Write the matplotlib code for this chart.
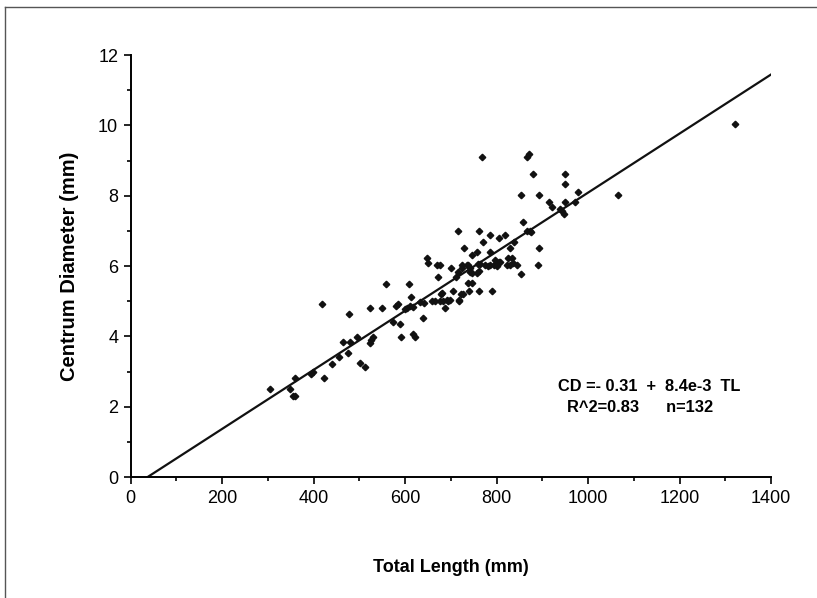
import numpy as np
import matplotlib
matplotlib.use('Agg')
import matplotlib.pyplot as plt
from matplotlib.lines import Line2D
from matplotlib.ticker import MultipleLocator

# total length (mm) and centrum diameter (mm)
total_length = [
    304, 348, 355, 360, 359, 395, 398, 422, 441, 456, 476, 464, 479, 494,
    501, 513, 523, 526, 530, 417, 478, 523, 549, 559, 609, 573, 589, 590,
    618, 621, 638, 580, 585, 603, 599, 613, 618, 632, 640, 658, 665, 676,
    683, 691, 678, 687, 647, 669, 676, 672, 698,
    716, 762, 785, 771, 806, 818, 857, 867, 875, 728, 747, 757, 785, 838,
    829, 893, 723, 738, 716, 711, 742, 745, 756, 762, 774, 785, 793, 804,
    796, 825, 833, 829, 836, 822, 845, 853, 890, 738, 745, 705, 721, 740,
    762, 789, 694, 718, 680, 727, 718, 767, 866, 871, 879, 949, 949, 978,
    852, 893, 1066, 915, 920, 949, 971, 942, 947, 939, 873, 1321, 807,
    734, 742, 763, 723, 760, 700, 650, 780, 800, 610,
]
centrum_diam = [
    2.49, 2.49, 2.31, 2.29, 2.82, 2.92, 2.99, 2.82, 3.21, 3.40, 3.52, 3.83, 3.85, 3.99,
    3.23, 3.12, 3.80, 3.91, 3.99, 4.91, 4.63, 4.81, 4.81, 5.48, 5.48, 4.42, 4.34, 3.99,
    4.07, 3.99, 4.51, 4.86, 4.92, 4.80, 4.77, 5.11, 4.84, 4.98, 4.96, 5.00, 5.00, 5.00,
    5.00, 5.02, 5.20, 4.82, 6.22, 6.03, 6.03, 5.68, 5.03,
    6.99, 6.99, 6.89, 6.69, 6.79, 6.88, 7.26, 6.99, 6.97, 6.50, 6.31, 6.41, 6.41, 6.69,
    6.50, 6.50, 6.03, 6.03, 5.84, 5.70, 5.84, 5.79, 5.81, 5.87, 6.03, 6.03, 6.03, 6.12,
    6.17, 6.22, 6.22, 6.03, 6.08, 6.03, 6.03, 5.77, 6.03, 5.51, 5.51, 5.30, 5.20, 5.30,
    5.30, 5.30, 5.00, 5.00, 5.22, 5.20, 5.03, 9.11, 9.11, 9.18, 8.61, 8.61, 8.32, 8.11,
    8.02, 8.02, 8.02, 7.83, 7.67, 7.83, 7.83, 7.57, 7.48, 7.61, 7.00, 10.04, 6.12,
    6.03, 5.93, 6.07, 5.93, 6.05, 5.95, 6.10, 6.00, 6.00, 4.85,
]

intercept = -0.31
slope = 8.4e-3

plt.rcParams['font.family'] = ['Liberation Sans', 'DejaVu Sans']

fig = plt.figure(figsize=(8.17, 5.98), dpi=100)
ax = fig.add_axes([0.160, 0.2023, 0.784, 0.7057])

ax.plot(total_length, centrum_diam, linestyle='none', marker='D', ms=3.3,
        color='#111111', mec='#111111')

# fitted line from where it crosses zero up to the axis end
x0 = -intercept / slope
xs = np.array([x0, 1400])
ax.plot(xs, intercept + slope * xs, color='#111111', lw=1.6)

ax.set_xlim(0, 1400)
ax.set_ylim(0, 12)
ax.xaxis.set_major_locator(MultipleLocator(200))
ax.xaxis.set_minor_locator(MultipleLocator(100))
ax.yaxis.set_major_locator(MultipleLocator(2))
ax.yaxis.set_minor_locator(MultipleLocator(1))
ax.tick_params(which='major', direction='out', length=5, width=1.2, labelsize=13, pad=4)
ax.tick_params(which='minor', direction='out', length=3, width=1.2)

for s in ['top', 'right']:
    ax.spines[s].set_visible(False)
for s in ['left', 'bottom']:
    ax.spines[s].set_linewidth(1.4)

ax.set_xlabel('Total Length (mm)', fontsize=13, fontweight='bold', labelpad=38)
ax.set_ylabel('Centrum Diameter (mm)', fontsize=14.5, fontweight='bold', labelpad=14)

ax.text(934, 2.56, 'CD =- 0.31  +  8.4e-3  TL', fontsize=11.8, fontweight='bold',
        va='center', ha='left')
ax.text(954, 1.99, 'R^2=0.83      n=132', fontsize=11.8, fontweight='bold',
        va='center', ha='left')

# scan border lines
fig.add_artist(Line2D([0.006, 1.0], [0.988, 0.988], color='#555555', lw=1.0))
fig.add_artist(Line2D([0.006, 0.006], [0.0, 0.988], color='#555555', lw=1.0))

fig.savefig('out.png', dpi=100)
